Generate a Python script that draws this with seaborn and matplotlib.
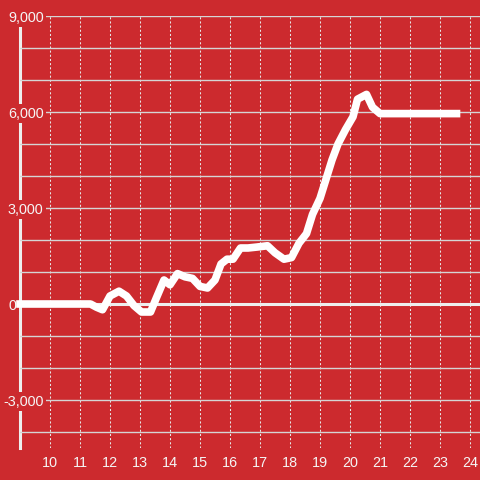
import matplotlib
matplotlib.use('Agg')
import matplotlib.pyplot as plt
import matplotlib.transforms as mtransforms
import seaborn as sns
import pandas as pd
from matplotlib.ticker import MultipleLocator

hours = [9.0, 11.35, 11.55, 11.75, 12.0, 12.3, 12.55, 12.8, 13.05, 13.35, 13.55, 13.8, 14.0,
         14.25, 14.5, 14.75, 15.0, 15.25, 15.5, 15.7, 15.9, 16.1, 16.35, 16.6, 16.9, 17.25,
         17.5, 17.8, 18.05, 18.3, 18.55, 18.75, 19.0, 19.2, 19.4, 19.6, 19.85, 20.1, 20.25,
         20.55, 20.75, 21.0, 23.55]
values = [0, 0, -100, -180, 250, 400, 250, -50, -250, -250, 200, 750, 600,
          950, 850, 800, 550, 500, 750, 1250, 1400, 1400, 1750, 1750, 1780, 1820,
          1600, 1400, 1450, 1900, 2200, 2800, 3300, 3900, 4500, 5000, 5450, 5850, 6400,
          6550, 6150, 5950, 5950]
x_ticks = list(range(10, 25))
y_ticks = [-3000, 0, 3000, 6000, 9000]
y_tick_labels = ["-3,000", "0", "3,000", "6,000", "9,000"]

RED = '#cc2a2e'
sns.set_style('white')
plt.rcParams['font.family'] = ['Liberation Sans', 'DejaVu Sans']

fig = plt.figure(figsize=(4.8, 4.8), dpi=100, facecolor=RED)
ax = fig.add_axes([20/480, 32/480, 460/480, 432/480])
ax.set_facecolor(RED)

df = pd.DataFrame({'hour': hours, 'value': values})
sns.lineplot(data=df, x='hour', y='value', ax=ax, color='white', linewidth=5.5,
             zorder=3, sort=False, estimator=None)
line = ax.lines[-1]
line.set_solid_capstyle('projecting')
line.set_solid_joinstyle('round')
line.set_clip_on(False)

ax.axhline(0, color='#eeeeee', lw=2.2, zorder=1.5)

ax.set_xlim(9, 24.333)
ax.set_ylim(-4500, 9000)
ax.set_xticks(x_ticks)
ax.set_xticklabels([str(t) for t in x_ticks])
ax.set_yticks(y_ticks)
ax.set_yticklabels(y_tick_labels)
ax.yaxis.set_minor_locator(MultipleLocator(1000))
ax.set_axisbelow(True)
ax.grid(False)
ax.grid(axis='y', which='both', color='#d5d5d5', lw=1)
ax.grid(axis='x', which='major', color='#e6e6e6', lw=0.75, linestyle=(0, (2, 2)))
ax.tick_params(axis='x', length=0, pad=6, labelsize=10.4, colors='#f5f5f5')
ax.tick_params(axis='y', which='both', length=0, pad=-17, labelsize=10.4, colors='#f5f5f5')
for lab in ax.get_yticklabels():
    lab.set_bbox(dict(facecolor=RED, edgecolor='none', pad=1.5))
    if lab.get_text() == "0":
        lab.set_transform(lab.get_transform() +
                          mtransforms.ScaledTranslation(-0.27, 0, fig.dpi_scale_trans))

for s in ['top', 'right', 'bottom']:
    ax.spines[s].set_visible(False)
ax.spines['left'].set_color('#eeeeee')
ax.spines['left'].set_linewidth(2.2)
ax.spines['left'].set_zorder(0.4)
ax.set_xlabel('')
ax.set_ylabel('')

fig.savefig('out.png', dpi=100, facecolor=RED)
